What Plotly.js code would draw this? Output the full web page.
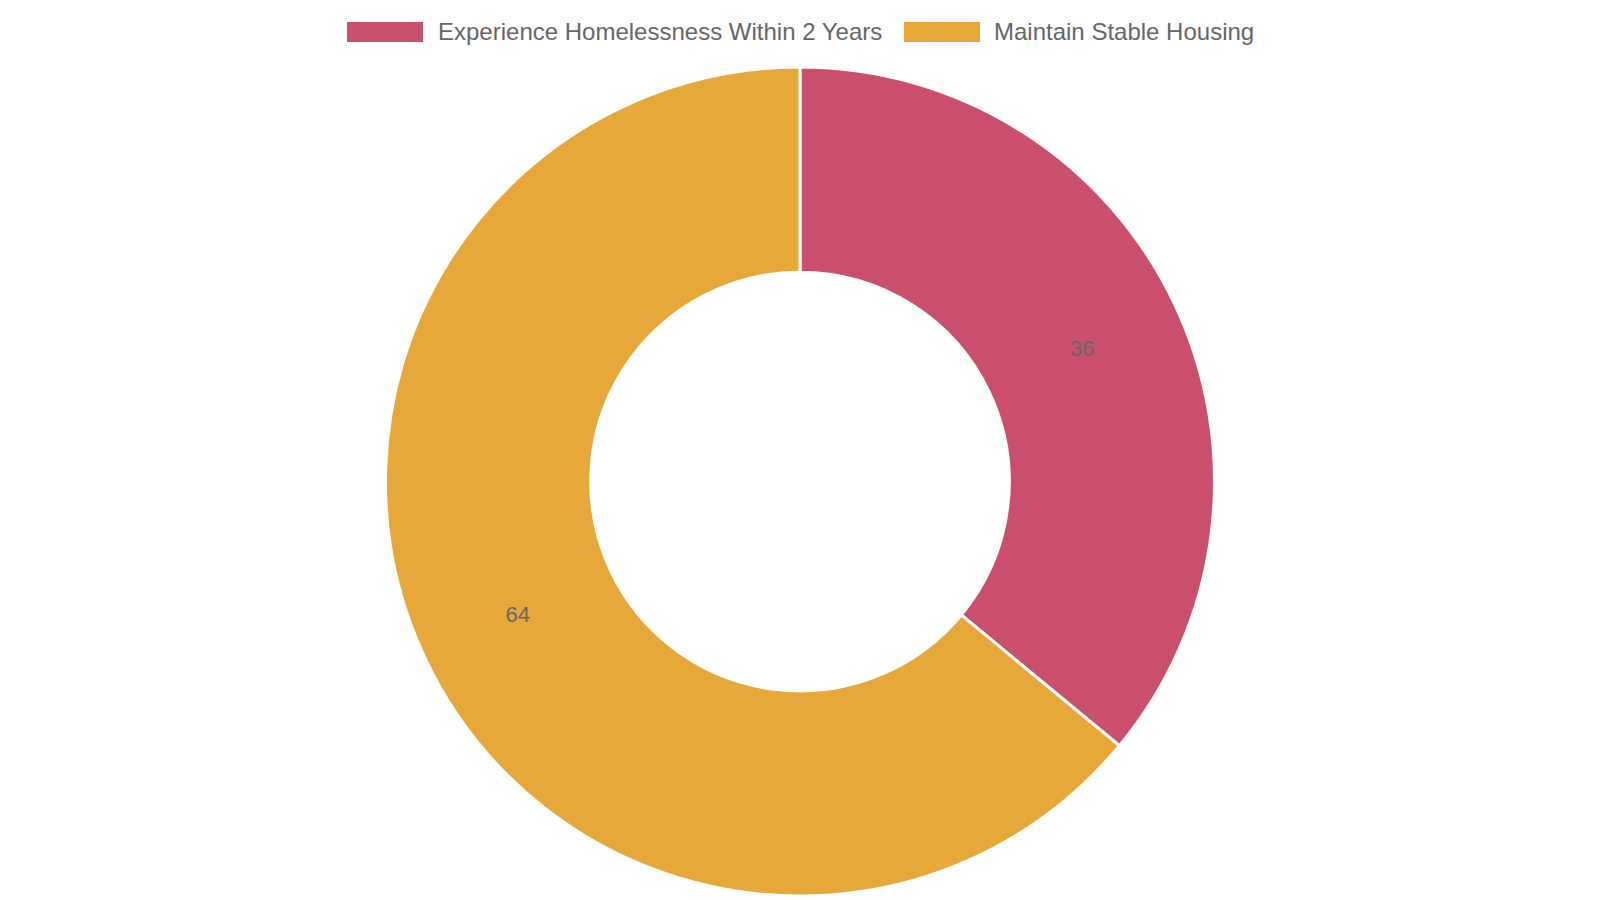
<!DOCTYPE html>
<html>
<head>
<meta charset="utf-8">
<script src="https://cdn.plot.ly/plotly-3.0.1.min.js"></script>
<style>html,body{margin:0;padding:0;background:#fff;}#chart{width:1600px;height:900px;}</style>
</head>
<body>
<div id="chart"></div>
<script>
const categories = ["Experience Homelessness Within 2 Years", "Maintain Stable Housing"];
const values = [36, 64];
const colors = ["#C94F6D", "#E6A838"];

const W = 1600, H = 900;
const FONT = "Liberation Sans, Arial, Helvetica, sans-serif";

const trace = {
  type: "pie",
  labels: categories,
  values: values,
  sort: false,
  direction: "clockwise",
  rotation: 0,
  hole: 0.505,
  marker: {colors: colors, line: {color: "#ffffff", width: 3}},
  texttemplate: "%{value}",
  textinfo: "text",
  textposition: "inside",
  insidetextorientation: "horizontal",
  textfont: {family: FONT, size: 22, color: "#666666"},
  domain: {x: [0, 1], y: [4 / H, 1 - 67 / H]},
  showlegend: false,
  hoverinfo: "label+value"
};

// custom legend (Chart.js style boxes)
const legendBoxes = [[347, 423], [904, 980]];
const legendTextX = [436, 992];
const shapes = [], annotations = [];
categories.forEach((c, i) => {
  shapes.push({
    type: "rect", xref: "paper", yref: "paper",
    x0: legendBoxes[i][0] / W, x1: legendBoxes[i][1] / W,
    y0: 1 - 42 / H, y1: 1 - 22 / H,
    fillcolor: colors[i], line: {width: 0}
  });
  annotations.push({
    xref: "paper", yref: "paper",
    x: legendTextX[i] / W, y: 1 - 31 / H,
    xanchor: "left", yanchor: "middle",
    text: c, showarrow: false,
    font: {family: FONT, size: 24, color: "#666666"}
  });
});

const layout = {
  width: W, height: H,
  margin: {l: 0, r: 0, t: 0, b: 0},
  paper_bgcolor: "#ffffff",
  showlegend: false,
  shapes: shapes,
  annotations: annotations
};

Plotly.newPlot("chart", [trace], layout, {displayModeBar: false, staticPlot: true});
</script>
</body>
</html>
